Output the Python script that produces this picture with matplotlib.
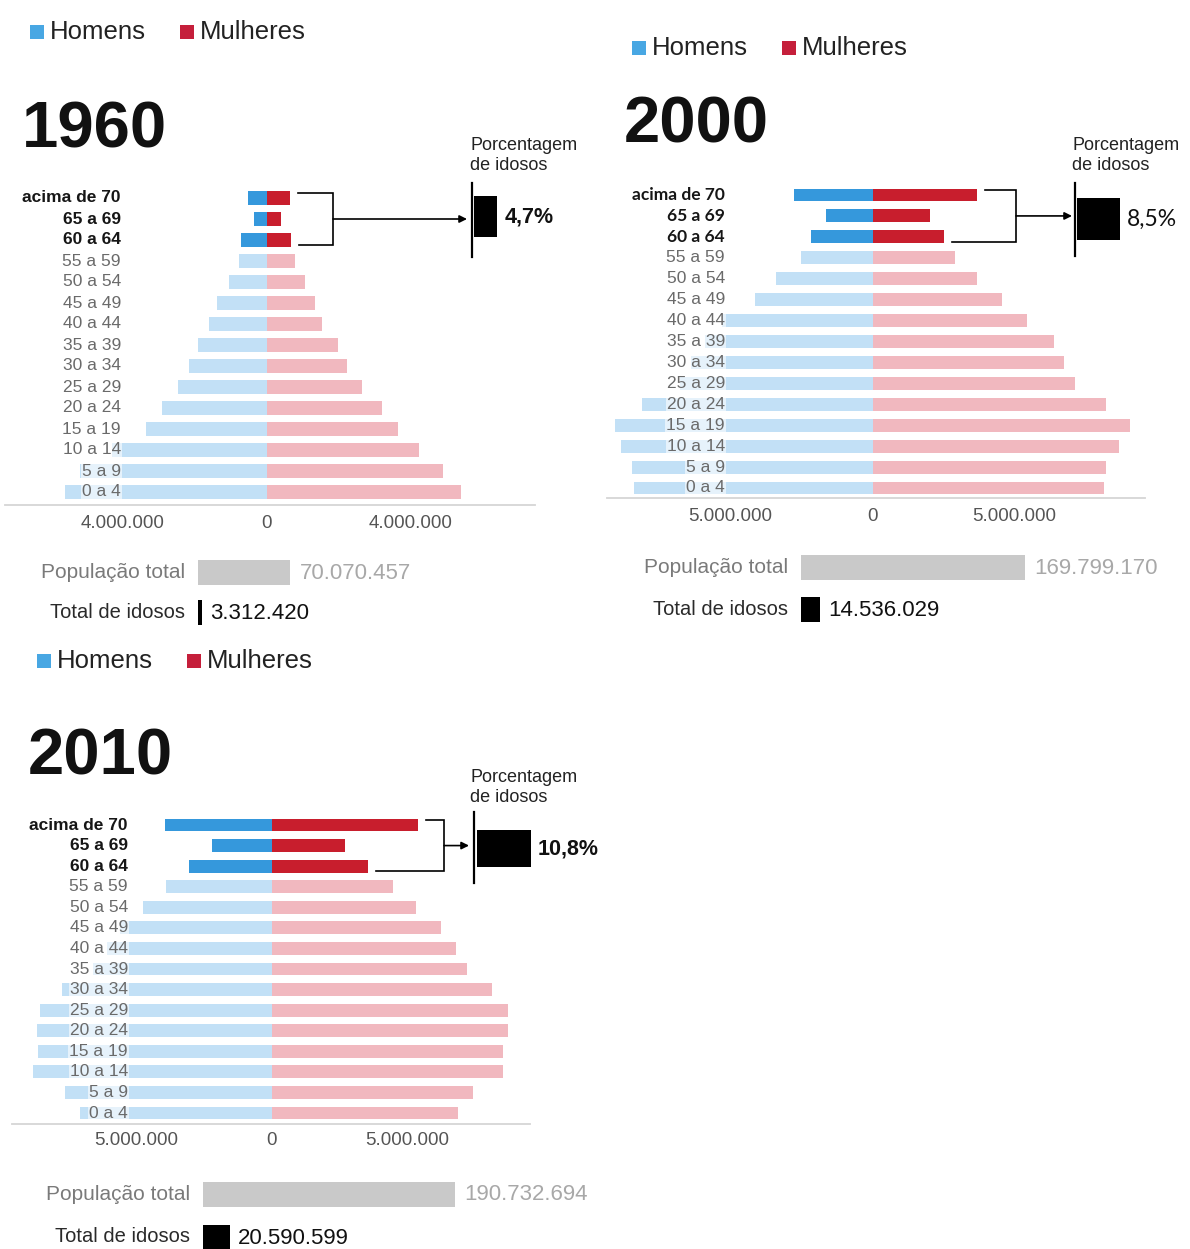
import matplotlib
matplotlib.use("Agg")
import matplotlib.pyplot as plt
import numpy as np
from matplotlib import font_manager as fm
from matplotlib.patches import Rectangle

W, H = 1190, 1249

# ---- data (populations in millions, bottom row first) ----
ages = ["0 a 4", "5 a 9", "10 a 14", "15 a 19", "20 a 24", "25 a 29", "30 a 34",
        "35 a 39", "40 a 44", "45 a 49", "50 a 54", "55 a 59", "60 a 64",
        "65 a 69", "acima de 70"]

men_1960 = [5.6, 5.2, 4.3, 3.37, 2.93, 2.47, 2.18, 1.91, 1.62, 1.38, 1.05, 0.77, 0.71, 0.37, 0.52]
women_1960 = [5.4, 4.89, 4.21, 3.65, 3.19, 2.64, 2.23, 1.97, 1.54, 1.33, 1.06, 0.78, 0.67, 0.38, 0.64]

men_2000 = [8.4, 8.49, 8.87, 9.07, 8.13, 6.8, 6.4, 5.9, 5.3, 4.16, 3.40, 2.53, 2.16, 1.63, 2.76]
women_2000 = [8.13, 8.23, 8.67, 9.07, 8.2, 7.13, 6.73, 6.37, 5.44, 4.56, 3.69, 2.89, 2.51, 2.0, 3.69]

men_2010 = [7.08, 7.64, 8.82, 8.63, 8.67, 8.56, 7.75, 6.6, 6.1, 5.6, 4.75, 3.90, 3.05, 2.20, 3.93]
women_2010 = [6.88, 7.42, 8.51, 8.51, 8.70, 8.72, 8.13, 7.2, 6.78, 6.24, 5.33, 4.47, 3.55, 2.70, 5.39]

years = ["1960", "2000", "2010"]
tick_step = [4, 5, 5]  # millions
total_pop = [70070457, 169799170, 190732694]
total_old = [3312420, 14536029, 20590599]
pct_old = [4.7, 8.5, 10.8]

# ---- fonts ----
names = {f.name for f in fm.fontManager.ttflist}
ARIAL = "Liberation Sans"
NARROW = "Liberation Sans Narrow" if "Liberation Sans Narrow" in names else ARIAL
LATO = "Lato" if "Lato" in names else ARIAL
has_narrow = NARROW != ARIAL

BLUE, LBLUE = "#3598dc", "#c2e0f6"
RED, LRED = "#c81e2d", "#f1b8bf"

# pixel layout of each panel
layouts = [
    dict(legend=(30, 32), title=(22, 130), axis_x=(5, 535), rows_y=(198, 492), line_y=505,
         zero_x=267, ppm=36.0, label_x=121, pad=7, bold_font=ARIAL,
         bracket_x=333, arrow_to=467, pline=(472, 183, 257), prect=(474, 196, 41),
         ptitle=(470, 137), totals_x=198, totals_y=(572, 612)),
    dict(legend=(632, 48), title=(624, 125), axis_x=(607, 1145), rows_y=(195, 488), line_y=498,
         zero_x=872.7, ppm=28.4, label_x=725, pad=7, bold_font=LATO,
         bracket_x=1016, arrow_to=1072, pline=(1075, 183, 256), prect=(1077, 198, 42),
         ptitle=(1072, 137), totals_x=801, totals_y=(567, 609)),
    dict(legend=(37, 661), title=(28, 757), axis_x=(12, 530), rows_y=(825, 1113), line_y=1124,
         zero_x=272, ppm=27.1, label_x=128, pad=6, bold_font=ARIAL,
         bracket_x=444, arrow_to=469, pline=(474, 812, 883), prect=(477, 830, 37),
         ptitle=(470, 769), totals_x=203, totals_y=(1194, 1237)),
]
men_all = [men_1960, men_2000, men_2010]
women_all = [women_1960, women_2000, women_2010]

PCT_PX = 5.0        # pixels per percentage point
TOT_PX = 1.32e-6    # pixels per person


def px_box(left, top, width, height):
    return [left / W, 1 - (top + height) / H, width / W, height / H]


def dots(v):
    return f"{v:,}".replace(",", ".")


def hbar(fig, left, top, height, value, scale, color, span=320):
    ax = fig.add_axes(px_box(left, top, span, height))
    ax.set_xlim(0, span / scale)
    ax.set_ylim(-0.5, 0.5)
    ax.barh(0, value, height=1.0, color=color)
    ax.axis("off")
    return left + value * scale


def draw_pyramid(fig, lay, men, women, step):
    n = len(ages)
    L, R = lay["axis_x"]
    top_row, bot_row = lay["rows_y"]
    row_px = (bot_row - top_row) / (n - 1)
    line_y = lay["line_y"]
    ax_top = top_row - 0.75 * row_px
    ax = fig.add_axes(px_box(L, ax_top, R - L, line_y - ax_top))
    zero, ppm = lay["zero_x"], lay["ppm"]
    ax.set_xlim((L - zero) / ppm, (R - zero) / ppm)
    ax.set_ylim(-(line_y - bot_row) / row_px, (n - 1) + 0.75)

    y = np.arange(n)
    hi = y >= n - 3
    ax.barh(y, -np.array(men), height=0.62, color=[BLUE if h else LBLUE for h in hi])
    ax.barh(y, women, height=0.62, color=[RED if h else LRED for h in hi])

    for s in ["top", "left", "right"]:
        ax.spines[s].set_visible(False)
    ax.spines["bottom"].set_color("#d5d5d5")
    ax.spines["bottom"].set_linewidth(1.3)
    ax.set_yticks([])
    ax.set_xticks([-step, 0, step],
                  labels=[dots(step * 1_000_000), "0", dots(step * 1_000_000)],
                  fontsize=13.5, color="#555555", family=ARIAL)
    ax.tick_params(axis="x", length=0, pad=lay["pad"])
    ax.patch.set_alpha(0)

    lab_x = (lay["label_x"] - zero) / ppm
    for i, a in enumerate(ages):
        if hi[i]:
            ax.text(lab_x, i, a, ha="right", va="center", fontsize=12.5, fontweight="bold",
                    color="#161616", family=lay["bold_font"], clip_on=False)
        else:
            ax.text(lab_x, i, a, ha="right", va="center",
                    fontsize=14.5 if has_narrow else 12.5,
                    color="#6a6a6a", family=NARROW, clip_on=False,
                    bbox=dict(facecolor="white", alpha=0.6, edgecolor="none", pad=0.8))

    row_y = lambda i: bot_row - i * row_px
    bar_end = lambda i: zero + women[i] * ppm
    return row_y, bar_end


fig = plt.figure(figsize=(W / 100, H / 100), dpi=100)
fig.patch.set_facecolor("white")

ov_items = []
for k, lay in enumerate(layouts):
    row_y, bar_end = draw_pyramid(fig, lay, men_all[k], women_all[k], tick_step[k])
    ov_items.append((row_y, bar_end))

    # black percentage bar
    px0, ptop, ph = lay["prect"]
    lay["pct_end"] = hbar(fig, px0, ptop, ph, pct_old[k], PCT_PX, "black", span=80)

    # totals
    tx = lay["totals_x"]
    py, oy = lay["totals_y"]
    lay["pop_end"] = hbar(fig, tx, py - 12.5, 25, total_pop[k], TOT_PX, "#c9c9c9")
    lay["old_end"] = hbar(fig, tx, oy - 12.5, 25, total_old[k], TOT_PX, "black")

# overlay in pixel coordinates for text and annotations
ov = fig.add_axes([0, 0, 1, 1])
ov.set_xlim(0, W)
ov.set_ylim(H, 0)
ov.axis("off")

for k, lay in enumerate(layouts):
    row_y, bar_end = ov_items[k]
    n = len(ages)

    # legend
    lx, ly = lay["legend"]
    ov.add_patch(Rectangle((lx, ly - 7), 14, 14, color="#48a7e3", lw=0))
    ov.text(lx + 20, ly, "Homens", fontsize=18.5, family=ARIAL, color="#222222", va="center")
    ov.add_patch(Rectangle((lx + 150, ly - 7), 14, 14, color="#c51f3b", lw=0))
    ov.text(lx + 170, ly, "Mulheres", fontsize=18.5, family=ARIAL, color="#222222", va="center")

    # year title
    tx_, ty_ = lay["title"]
    ov.text(tx_, ty_, years[k], fontsize=56 if has_narrow else 47, fontweight="bold",
            family=NARROW, color="#111111", va="center")

    # bracket + arrow
    bx = lay["bracket_x"]
    y_top = row_y(n - 1) - 5
    y_bot = row_y(n - 3) + 5
    ov.plot([bar_end(n - 1) + 8, bx, bx, bar_end(n - 3) + 8], [y_top, y_top, y_bot, y_bot],
            color="black", lw=1.2, solid_joinstyle="miter")
    ov.annotate("", xy=(lay["arrow_to"], row_y(n - 2)), xytext=(bx, row_y(n - 2)),
                arrowprops=dict(arrowstyle="-|>", color="black", lw=1.2, mutation_scale=11,
                                shrinkA=0, shrinkB=0))

    # percentage block
    vx, vy0, vy1 = lay["pline"]
    ov.plot([vx, vx], [vy0, vy1], color="black", lw=1.6)
    px0, ptop, ph = lay["prect"]
    pct_font = LATO if k == 1 else ARIAL
    ov.text(lay["pct_end"] + 7, ptop + ph / 2, f"{pct_old[k]:.1f}%".replace(".", ","),
            fontsize=16.5 if k == 1 else 15.5, fontweight="normal" if k == 1 else "bold",
            family=pct_font, color="#111111", va="center")
    ptx, pty = lay["ptitle"]
    ov.text(ptx, pty, "Porcentagem\nde idosos", fontsize=13, family=ARIAL, color="#222222",
            va="top", ha="left", linespacing=1.2)

    # totals text
    tx = lay["totals_x"]
    py, oy = lay["totals_y"]
    ov.text(tx - 13, py, "População total", fontsize=15, family=ARIAL, color="#7a7a7a",
            ha="right", va="center")
    ov.text(lay["pop_end"] + 9, py + 1, dots(total_pop[k]), fontsize=16, family=ARIAL,
            color="#a8a8a8", va="center")
    ov.text(tx - 13, oy, "Total de idosos", fontsize=14.5, family=ARIAL, color="#2a2a2a",
            ha="right", va="center")
    ov.text(lay["old_end"] + 8, oy + 1, dots(total_old[k]), fontsize=16, family=ARIAL,
            color="#111111", va="center")

fig.savefig("out.png", dpi=100, facecolor="white")
